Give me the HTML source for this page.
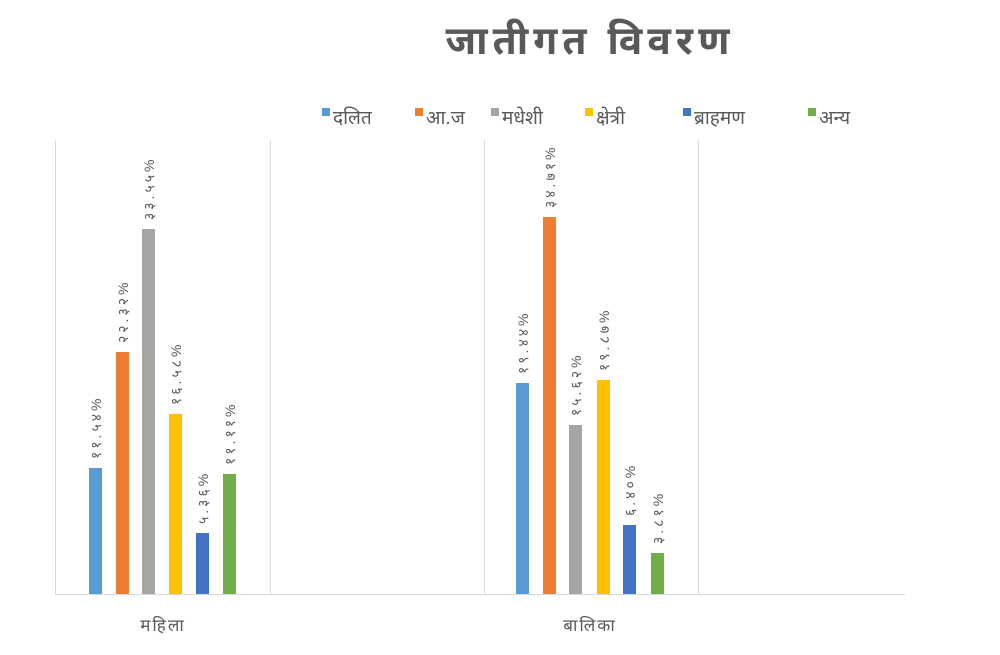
<!DOCTYPE html>
<html><head><meta charset="utf-8"><style>
body{margin:0;background:#fff;}
svg text{font-family:"Liberation Sans","Noto Sans Devanagari","Lohit Devanagari",sans-serif;}
</style></head><body>
<svg width="1000" height="650" xmlns="http://www.w3.org/2000/svg">
<rect width="1000" height="650" fill="#fff"/>
<text x="590" y="54" font-size="39" font-weight="bold" fill="#595959" text-anchor="middle" letter-spacing="5">जातीगत  विवरण</text>
<g font-size="19" fill="#595959">
<rect x="322" y="108" width="8" height="8" fill="#5b9bd5"/><text x="333" y="124">दलित</text>
<rect x="415" y="108" width="8" height="8" fill="#ed7d31"/><text x="426" y="124">आ.ज</text>
<rect x="491" y="108" width="8" height="8" fill="#a5a5a5"/><text x="502" y="124">मधेशी</text>
<rect x="585" y="108" width="8" height="8" fill="#ffc000"/><text x="596" y="124">क्षेत्री</text>
<rect x="683" y="108" width="8" height="8" fill="#4472c4"/><text x="694" y="124">ब्राहमण</text>
<rect x="808" y="108" width="8" height="8" fill="#70ad47"/><text x="819" y="124">अन्य</text>
</g>
<g stroke="#d9d9d9" stroke-width="1">
<line x1="55.5" y1="140" x2="55.5" y2="594"/>
<line x1="270.5" y1="140" x2="270.5" y2="594"/>
<line x1="484.5" y1="140" x2="484.5" y2="594"/>
<line x1="698.5" y1="140" x2="698.5" y2="594"/>
<line x1="55" y1="594.5" x2="905" y2="594.5"/>
</g>
<g>
<rect x="89" y="468" width="13" height="126" fill="#5b9bd5"/>
<rect x="116" y="352" width="13" height="242" fill="#ed7d31"/>
<rect x="142" y="229" width="13" height="365" fill="#a5a5a5"/>
<rect x="169" y="414" width="13" height="180" fill="#ffc000"/>
<rect x="196" y="533" width="13" height="61" fill="#4472c4"/>
<rect x="223" y="474" width="13" height="120" fill="#70ad47"/>
<rect x="516" y="383" width="13" height="211" fill="#5b9bd5"/>
<rect x="543" y="217" width="13" height="377" fill="#ed7d31"/>
<rect x="569" y="425" width="13" height="169" fill="#a5a5a5"/>
<rect x="597" y="380" width="13" height="214" fill="#ffc000"/>
<rect x="623" y="525" width="13" height="69" fill="#4472c4"/>
<rect x="651" y="553" width="13" height="41" fill="#70ad47"/>
</g>
<g font-size="14" fill="#595959" letter-spacing="3">
<text transform="translate(101,459) rotate(-90)">११.५४%</text>
<text transform="translate(128,343) rotate(-90)">२२.३२%</text>
<text transform="translate(154,220) rotate(-90)">३३.५५%</text>
<text transform="translate(181,405) rotate(-90)">१६.५८%</text>
<text transform="translate(208,524) rotate(-90)">५.३६%</text>
<text transform="translate(235,465) rotate(-90)">११.११%</text>
<text transform="translate(528,374) rotate(-90)">१९.४४%</text>
<text transform="translate(555,208) rotate(-90)">३४.७१%</text>
<text transform="translate(581,416) rotate(-90)">१५.६२%</text>
<text transform="translate(609,371) rotate(-90)">१९.८७%</text>
<text transform="translate(635,516) rotate(-90)">६.४०%</text>
<text transform="translate(663,544) rotate(-90)">३.८१%</text>
</g>
<g font-size="17" fill="#595959" text-anchor="middle" letter-spacing="2">
<text x="163" y="631">महिला</text>
<text x="590" y="631">बालिका</text>
</g>
</svg>
</body></html>
